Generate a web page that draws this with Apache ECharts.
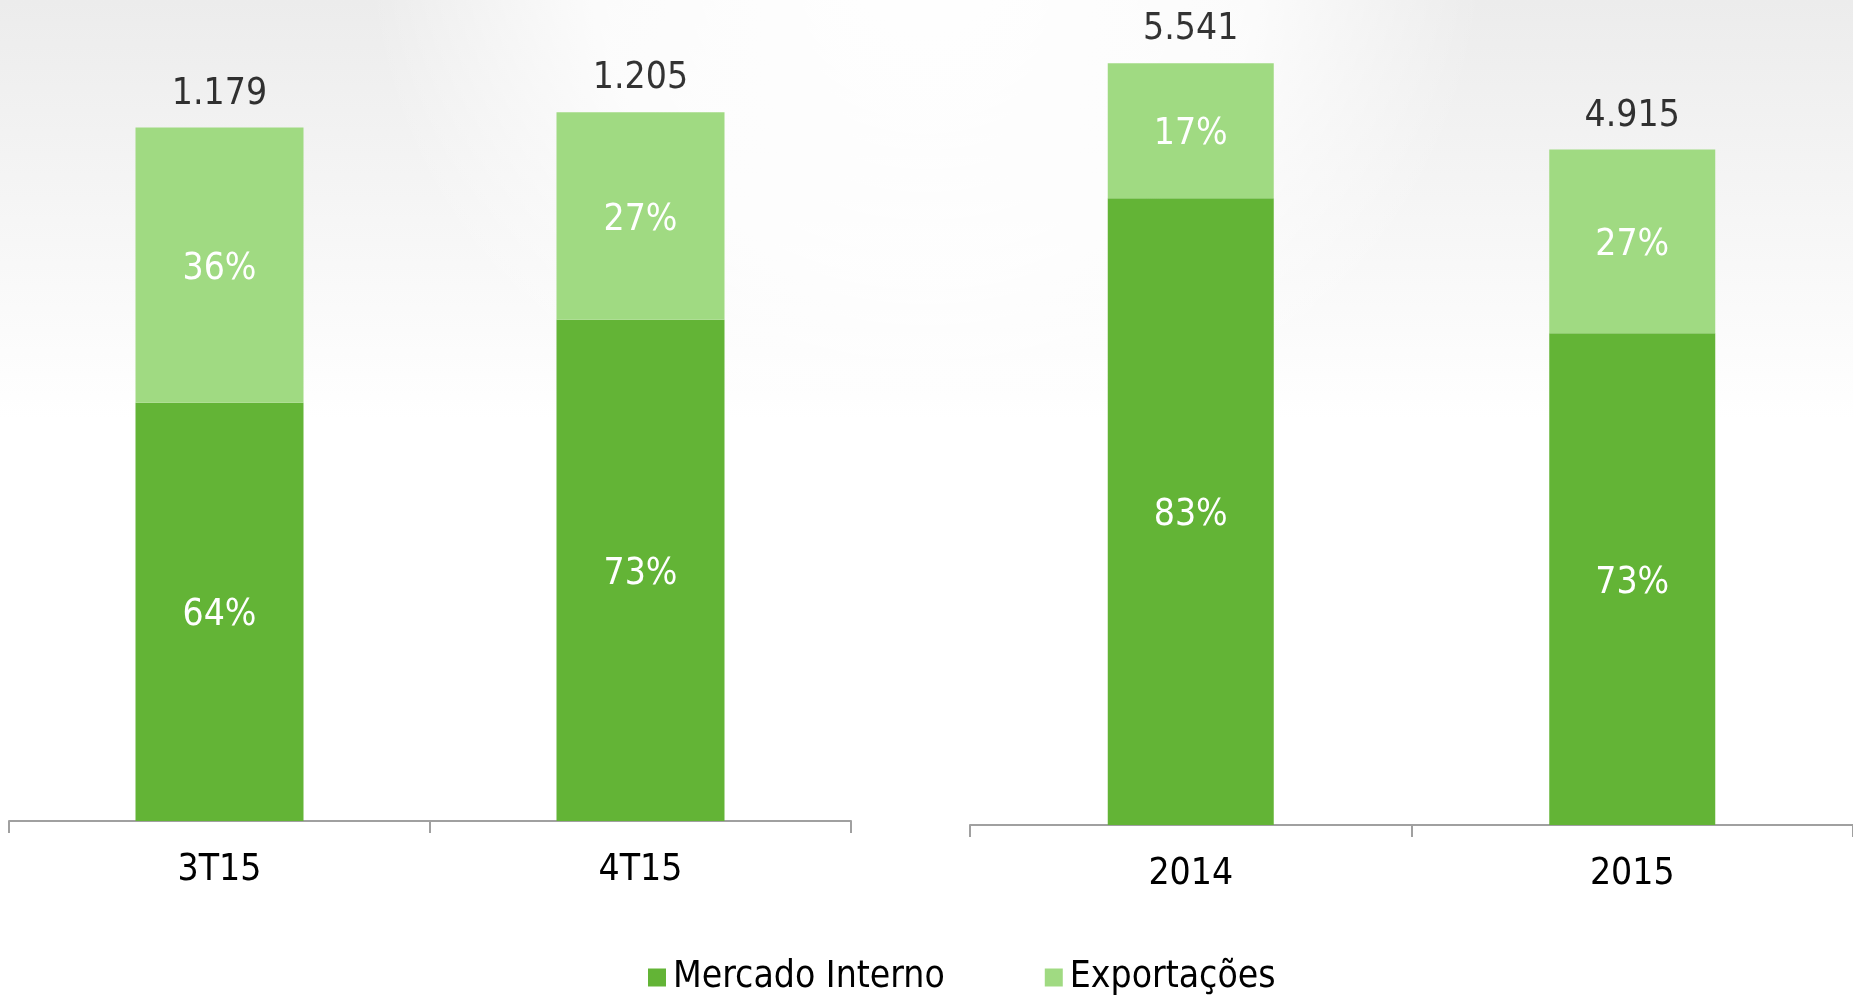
<!DOCTYPE html>
<html>
<head>
<meta charset="utf-8">
<script src="https://cdn.jsdelivr.net/npm/echarts@6/dist/echarts.min.js"></script>
<style>
  html, body { margin: 0; padding: 0; background: #fff; }
  #main { width: 1853px; height: 996px; }
</style>
</head>
<body>
<div id="main"></div>
<script>
// trimestres
var quarters = ['3T15', '4T15'];
var quarterInterno = [711, 852];
var quarterExport = [468, 353];
var quarterTotals = [1179, 1205];
var quarterPctInterno = ['64%', '73%'];
var quarterPctExport = ['36%', '27%'];

// anos
var years = ['2014', '2015'];
var yearInterno = [4560, 3578];
var yearExport = [981, 1337];
var yearTotals = [5541, 4915];
var yearPctInterno = ['83%', '73%'];
var yearPctExport = ['17%', '27%'];

var darkGreen = '#63b436';
var lightGreen = '#a0da82';
var fontName = '"Liberation Sans Narrow", "DejaVu Sans Condensed", "Noto Sans", sans-serif';

function fmtPt(v) {
  // 1179 -> 1.179
  return String(v).replace(/\B(?=(\d{3})+(?!\d))/g, '.');
}

function xAxisFor(idx, cats) {
  return {
    type: 'category',
    gridIndex: idx,
    data: cats,
    axisLine: { lineStyle: { color: '#a0a0a0', width: 2 } },
    axisTick: { show: true, length: 12, lineStyle: { color: '#a0a0a0', width: 2 } },
    axisLabel: { color: '#000', fontSize: 37, fontFamily: fontName, margin: 31 }
  };
}

function yAxisFor(idx, max) {
  return {
    type: 'value', gridIndex: idx, min: 0, max: max, show: false,
    splitLine: { show: false }
  };
}

function stackSeries(name, color, idx, values, pcts, stack, bw) {
  return {
    name: name,
    type: 'bar',
    stack: stack,
    xAxisIndex: idx,
    yAxisIndex: idx,
    barWidth: bw,
    data: values,
    itemStyle: { color: color },
    label: {
      show: true,
      position: 'inside',
      offset: [0, 4],
      color: '#fff',
      fontSize: 37,
      fontFamily: fontName,
      formatter: function (p) { return pcts[p.dataIndex]; }
    }
  };
}

function totalSeries(idx, totals) {
  return {
    type: 'scatter',
    xAxisIndex: idx,
    yAxisIndex: idx,
    symbolSize: 0,
    data: totals,
    silent: true,
    label: {
      show: true,
      position: 'top',
      distance: 15,
      color: '#000',
      fontSize: 37,
      fontFamily: fontName,
      formatter: function (p) { return fmtPt(p.value); }
    }
  };
}

var option = {
  backgroundColor: new echarts.graphic.LinearGradient(0, 0, 0, 1, [
    { offset: 0, color: '#ececec' },
    { offset: 0.42, color: '#ffffff' },
    { offset: 1, color: '#ffffff' }
  ]),
  animation: false,
  graphic: [{
    type: 'circle',
    shape: { cx: 926, cy: -60, r: 560 },
    z: -10,
    silent: true,
    style: {
      fill: new echarts.graphic.RadialGradient(0.5, 0.5, 0.5, [
        { offset: 0, color: 'rgba(255,255,255,1)' },
        { offset: 0.6, color: 'rgba(255,255,255,0.8)' },
        { offset: 1, color: 'rgba(255,255,255,0)' }
      ])
    }
  }],
  legend: {
    left: 643,
    top: 954,
    itemWidth: 18,
    itemHeight: 18,
    itemGap: 100,
    icon: 'rect',
    data: ['Mercado Interno', 'Exportações'],
    textStyle: { color: '#000', fontSize: 37, fontFamily: fontName, padding: [0, 0, 0, 2] }
  },
  grid: [
    { left: 9, top: 21, width: 842, height: 800, containLabel: false },
    { left: 970, top: 25, width: 889, height: 800, containLabel: false }
  ],
  xAxis: [xAxisFor(0, quarters), xAxisFor(1, years)],
  yAxis: [yAxisFor(0, 1360), yAxisFor(1, 5820)],
  series: [
    stackSeries('Mercado Interno', darkGreen, 0, quarterInterno, quarterPctInterno, 'q', 168),
    stackSeries('Exportações', lightGreen, 0, quarterExport, quarterPctExport, 'q', 168),
    totalSeries(0, quarterTotals),
    stackSeries('Mercado Interno', darkGreen, 1, yearInterno, yearPctInterno, 'y', 166),
    stackSeries('Exportações', lightGreen, 1, yearExport, yearPctExport, 'y', 166),
    totalSeries(1, yearTotals)
  ]
};

var chart = echarts.init(document.getElementById('main'));
chart.setOption(option);
</script>
</body>
</html>
